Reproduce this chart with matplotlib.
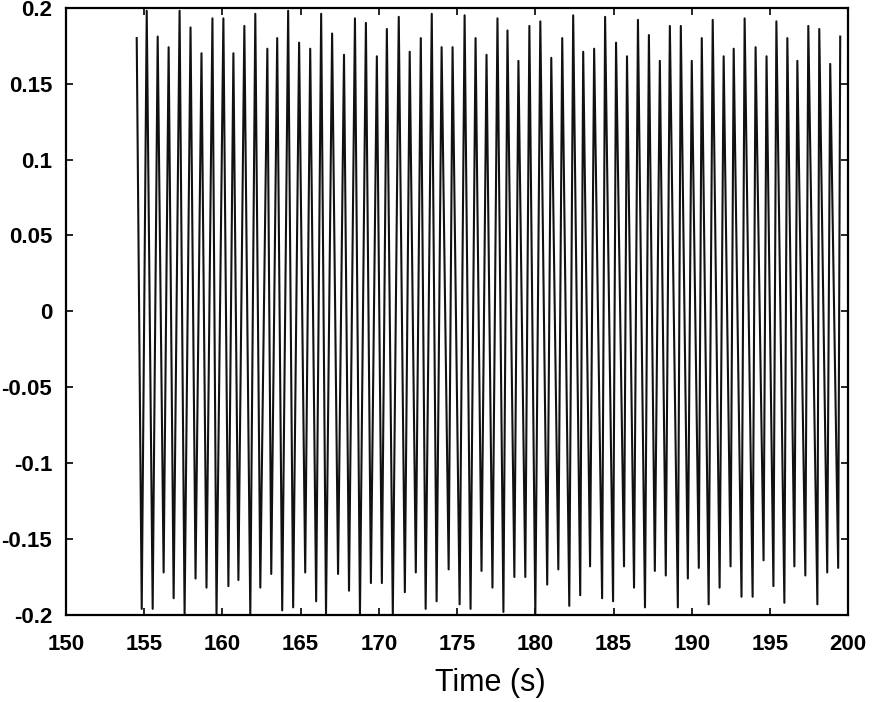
import numpy as np
import matplotlib
matplotlib.use("Agg")
import matplotlib.pyplot as plt

# Oscillation record: times (s) and values of each local maximum and minimum
peak_t = [154.52, 155.16, 155.86, 156.56, 157.26, 157.96, 158.66, 159.36, 160.06, 160.70,
          161.40, 162.10, 162.87, 163.50, 164.20, 164.90, 165.61, 166.31, 167.01, 167.77,
          168.47, 169.17, 169.87, 170.51, 171.27, 171.97, 172.68, 173.38, 174.01, 174.71,
          175.48, 176.18, 176.88, 177.58, 178.22, 178.92, 179.62, 180.32, 181.02, 181.72,
          182.42, 183.06, 183.76, 184.46, 185.16, 185.86, 186.56, 187.26, 187.96, 188.60,
          189.30, 190.00, 190.64, 191.34, 192.04, 192.68, 193.38, 194.08, 194.78, 195.41,
          196.11, 196.75, 197.45, 198.15, 198.85, 199.49]
peak_v = [0.180, 0.198, 0.181, 0.174, 0.198, 0.187, 0.170, 0.193, 0.193, 0.170,
          0.188, 0.196, 0.173, 0.180, 0.198, 0.177, 0.173, 0.196, 0.183, 0.169,
          0.193, 0.190, 0.168, 0.186, 0.194, 0.171, 0.180, 0.196, 0.174, 0.174,
          0.195, 0.180, 0.169, 0.193, 0.185, 0.165, 0.188, 0.191, 0.167, 0.180,
          0.195, 0.171, 0.173, 0.194, 0.177, 0.168, 0.192, 0.182, 0.165, 0.188,
          0.188, 0.165, 0.180, 0.192, 0.168, 0.173, 0.193, 0.174, 0.168, 0.191,
          0.180, 0.165, 0.188, 0.186, 0.163, 0.181]
trough_t = [154.84, 155.54, 156.24, 156.88, 157.58, 158.28, 158.98, 159.62, 160.38, 161.02,
            161.78, 162.42, 163.12, 163.82, 164.52, 165.29, 165.99, 166.62, 167.39, 168.09,
            168.79, 169.49, 170.19, 170.89, 171.66, 172.36, 172.99, 173.69, 174.46, 175.16,
            175.86, 176.56, 177.26, 177.96, 178.66, 179.36, 180.00, 180.76, 181.47, 182.17,
            182.87, 183.50, 184.27, 184.97, 185.67, 186.31, 187.01, 187.64, 188.34, 189.11,
            189.75, 190.45, 191.08, 191.78, 192.48, 193.18, 193.89, 194.59, 195.22, 195.92,
            196.56, 197.26, 198.03, 198.66, 199.36]
trough_v = [-0.196, -0.196, -0.172, -0.189, -0.200, -0.176, -0.182, -0.200, -0.181, -0.177,
            -0.200, -0.182, -0.173, -0.197, -0.195, -0.172, -0.191, -0.199, -0.173, -0.184,
            -0.200, -0.179, -0.179, -0.200, -0.185, -0.172, -0.196, -0.191, -0.170, -0.193,
            -0.196, -0.171, -0.182, -0.198, -0.175, -0.175, -0.200, -0.180, -0.170, -0.194,
            -0.187, -0.168, -0.189, -0.191, -0.168, -0.182, -0.195, -0.171, -0.174, -0.195,
            -0.176, -0.169, -0.193, -0.182, -0.168, -0.188, -0.188, -0.164, -0.181, -0.192,
            -0.168, -0.174, -0.193, -0.172, -0.169]

x_ticks = [150, 155, 160, 165, 170, 175, 180, 185, 190, 195, 200]
y_ticks = [0.2, 0.15, 0.1, 0.05, 0, -0.05, -0.1, -0.15, -0.2]
y_labels = ["0.2", "0.15", "0.1", "0.05", "0", "-0.05", "-0.1", "-0.15", "-0.2"]

# interleave maxima and minima into one trace
t = [peak_t[0]]
v = [peak_v[0]]
for i in range(len(trough_t)):
    t += [trough_t[i], peak_t[i + 1]]
    v += [trough_v[i], peak_v[i + 1]]

plt.rcParams['font.family'] = ['Liberation Sans', 'DejaVu Sans']

fig = plt.figure(figsize=(8.72, 7.02), dpi=100)
ax = fig.add_axes([0.0757, 0.124, 0.897, 0.865])
ax.plot(t, v, color='#111111', lw=1.5)

ax.set_xlim(150, 200)
ax.set_ylim(-0.2, 0.2)
ax.set_xticks(x_ticks)
ax.set_yticks(y_ticks)
ax.set_yticklabels(y_labels)
ax.tick_params(direction='in', top=True, right=True, length=5, width=1.2,
               labelsize=16)
ax.tick_params(axis='y', pad=10)
ax.tick_params(axis='x', pad=14)
for lab in ax.get_xticklabels() + ax.get_yticklabels():
    lab.set_fontweight('bold')
for s in ax.spines.values():
    s.set_linewidth(1.6)

ax.set_xlabel("Time (s)", fontsize=22)
ax.xaxis.set_label_coords(0.542, -0.112)
ax.xaxis.label.set_verticalalignment('center')

fig.savefig("out.png", dpi=100)
